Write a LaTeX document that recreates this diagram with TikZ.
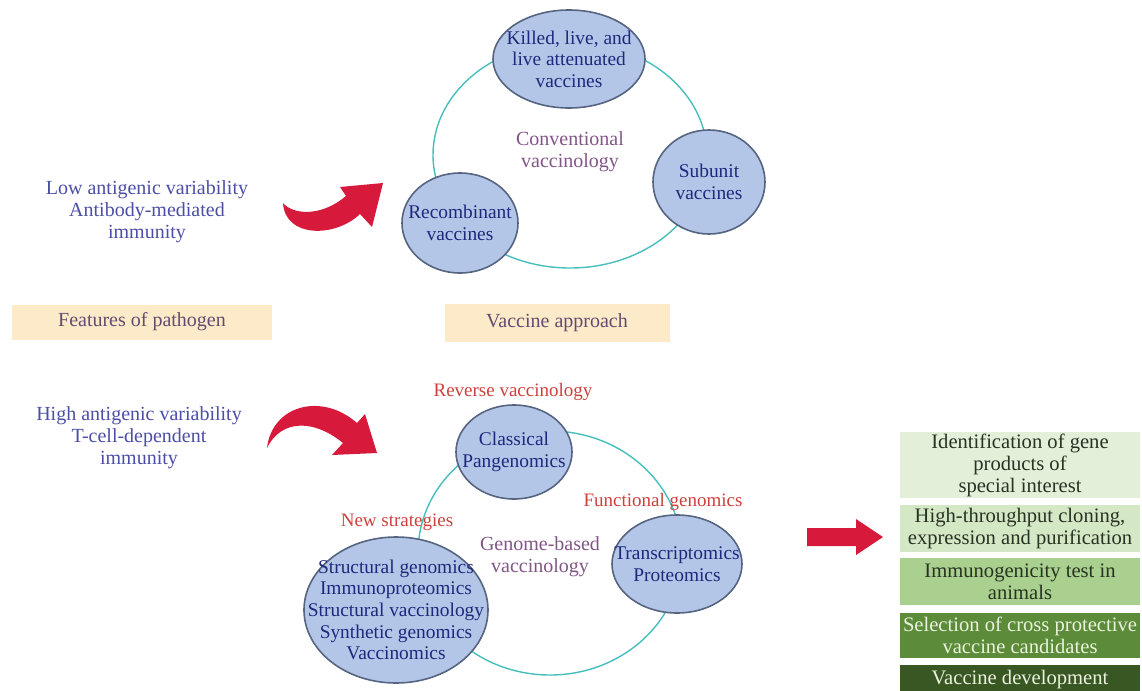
\documentclass[tikz,border=0pt]{standalone}
\usepackage{fontspec}
\setmainfont{Liberation Serif}
\usetikzlibrary{shapes.geometric}

\definecolor{ellfill}{RGB}{180,198,231}
\definecolor{ellline}{RGB}{85,100,128}
\definecolor{vactext}{RGB}{30,40,125}
\definecolor{feattext}{RGB}{75,78,165}
\definecolor{ringcol}{RGB}{70,190,190}
\definecolor{ringtext}{RGB}{130,85,135}
\definecolor{redtext}{RGB}{205,65,60}
\definecolor{arrowred}{RGB}{215,25,60}
\definecolor{peach}{RGB}{253,234,200}
\definecolor{hdrtext}{RGB}{100,75,115}
\definecolor{green1}{RGB}{228,239,218}
\definecolor{green2}{RGB}{213,232,198}
\definecolor{green3}{RGB}{169,208,142}
\definecolor{green4}{RGB}{92,140,58}
\definecolor{green5}{RGB}{56,87,35}
\definecolor{darktext}{RGB}{40,50,35}
\definecolor{lighttext}{RGB}{235,242,222}

\begin{document}
\begin{tikzpicture}[x=0.5pt,y=-0.5pt,
  vac/.style={ellipse,draw=ellline,line width=0.8pt,fill=ellfill,text=vactext,
    align=center,inner sep=-20pt,font=\fontsize{9.7}{10.8}\selectfont},
  feat/.style={text=feattext,align=center,font=\fontsize{10}{11}\selectfont},
  ringlab/.style={text=ringtext,align=center,font=\fontsize{10}{11}\selectfont},
  redlab/.style={text=redtext,font=\fontsize{9.5}{11}\selectfont},
  hdr/.style={fill=peach,text=hdrtext,font=\fontsize{10}{11}\selectfont},
  stage/.style={minimum width=120pt,align=center,inner sep=0pt,text=darktext,
    font=\fontsize{10.3}{11}\selectfont},
  ring/.style={draw=ringcol,line width=0.7pt}]

  \useasboundingbox (0,0) rectangle (1142,691);

  % rings behind the approaches
  \draw[ring] (570,155) ellipse [x radius=137, y radius=113];
  \draw[ring] (550,553) ellipse [x radius=132, y radius=122];

  % conventional vaccinology
  \node[vac,minimum width=76pt,minimum height=49pt] (killed) at (569,59) {Killed, live, and\\live attenuated\\vaccines};
  \node[vac,minimum width=56pt,minimum height=52pt] (subunit) at (709,182) {Subunit\\vaccines};
  \node[vac,minimum width=58pt,minimum height=50pt] (recomb) at (460,223) {Recombinant\\vaccines};
  \node[ringlab] (conv) at (570,152) {Conventional\\vaccinology};

  % genome-based vaccinology
  \node[vac,minimum width=58pt,minimum height=47pt] (classic) at (514,452) {Classical\\Pangenomics};
  \node[vac,minimum width=65pt,minimum height=49pt] (transcr) at (677,564) {Transcriptomics\\Proteomics};
  \node[vac,minimum width=92pt,minimum height=73pt] (struct) at (396,610) {Structural genomics\\Immunoproteomics\\Structural vaccinology\\Synthetic genomics\\Vaccinomics};
  \node[ringlab] (genome) at (540,557) {Genome-based\\vaccinology};
  \node[redlab] (reverse) at (513,392) {Reverse vaccinology};
  \node[redlab] (funct) at (663,502) {Functional genomics};
  \node[redlab] (newstr) at (397,522) {New strategies};

  % features of pathogen
  \node[feat] (low) at (147,212) {Low antigenic variability\\Antibody-mediated\\immunity};
  \node[feat] (high) at (139,438) {High antigenic variability\\T-cell-dependent\\immunity};

  % headings
  \node[hdr,minimum width=130pt,minimum height=17.5pt] (feathdr) at (142,322) {Features of pathogen};
  \node[hdr,minimum width=112.5pt,minimum height=19pt] (apprhdr) at (557,323) {Vaccine approach};

  % curved red arrows
  \fill[arrowred] (283,203) .. controls (292,214) and (320,218) .. (346,196) -- (340,187) -- (383,183)
    -- (372,227) -- (360,214) .. controls (335,238) and (285,238) .. (283,203) -- cycle;
  \fill[arrowred] (267,448) .. controls (272,405) and (322,392) .. (357,423) -- (365,414) -- (377,453)
    -- (332,455) -- (343,443) .. controls (315,420) and (282,418) .. (267,448) -- cycle;
  \fill[arrowred] (807,528) -- (856,528) -- (856,519) -- (883,537) -- (856,555) -- (856,546) -- (807,546) -- cycle;

  % steps after genome-based vaccinology
  \node[stage,fill=green1,minimum height=33pt] (s1) at (1020,465) {Identification of gene\\products of\\special interest};
  \node[stage,fill=green2,minimum height=23.5pt] (s2) at (1020,528.5) {High-throughput cloning,\\expression and purification};
  \node[stage,fill=green3,minimum height=23.5pt] (s3) at (1020,581.5) {Immunogenicity test in\\animals};
  \node[stage,fill=green4,text=lighttext,minimum height=22.5pt] (s4) at (1020,635.5) {Selection of cross protective\\vaccine candidates};
  \node[stage,fill=green5,text=lighttext,minimum height=15pt] (s5) at (1020,680) {Vaccine development};

\end{tikzpicture}
\end{document}
